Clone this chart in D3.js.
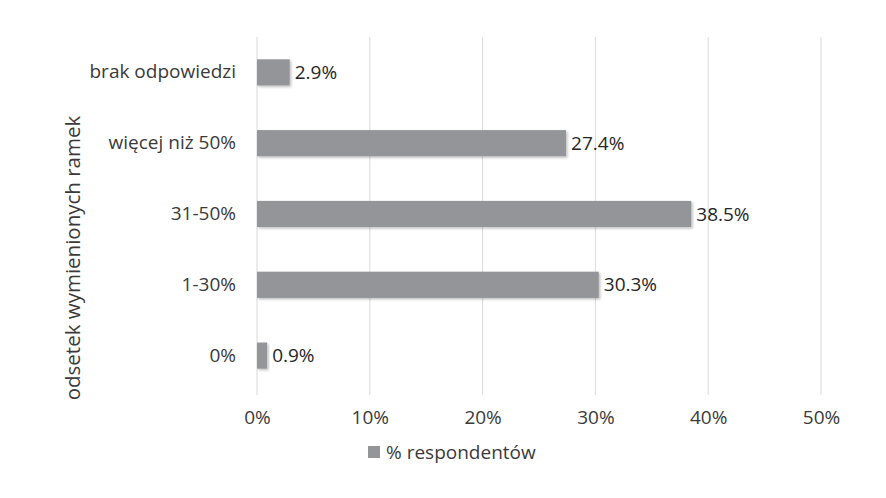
<!DOCTYPE html>
<html>
<head>
<meta charset="utf-8">
<script src="https://cdn.jsdelivr.net/npm/d3@7"></script>
<style>
  body { margin: 0; background: #fff; overflow: hidden; }
  text { font-family: "Open Sans", "Noto Sans", sans-serif; }
</style>
</head>
<body>
<div id="chart"></div>
<script>
// Data
const categories = ['brak odpowiedzi', 'więcej niż 50%', '31-50%', '1-30%', '0%'];
const values = [2.9, 27.4, 38.5, 30.3, 0.9];
const xTicks = [0, 10, 20, 30, 40, 50];
const seriesName = '% respondentów';
const axisTitle = 'odsetek wymienionych ramek';

const width = 886;
const height = 498;
const margin = {top: 37, right: 64, bottom: 107, left: 257};
const innerWidth = width - margin.left - margin.right;
const innerHeight = height - margin.top - margin.bottom;
const fontSize = '19px';
const labelColor = '#3a3a3a';

const svg = d3.select('#chart')
    .append('svg')
    .attr('width', width)
    .attr('height', height)
    .style('display', 'block');

const defs = svg.append('defs');
const shadow = defs.append('filter')
    .attr('id', 'bar-shadow')
    .attr('x', '-10%').attr('y', '-20%')
    .attr('width', '130%').attr('height', '160%');
shadow.append('feDropShadow')
    .attr('dx', 1.5).attr('dy', 1.5)
    .attr('stdDeviation', 1.2)
    .attr('flood-color', '#000')
    .attr('flood-opacity', 0.25);

const g = svg.append('g')
    .attr('transform', `translate(${margin.left}, ${margin.top})`);

// Scales
const x = d3.scaleLinear()
    .domain([0, 50])
    .range([0, innerWidth - 1]);

const y = d3.scaleBand()
    .domain(categories)
    .range([0, innerHeight])
    .paddingInner(0.63)
    .paddingOuter(0.315);

// Vertical grid lines
g.append('g')
    .attr('class', 'grid')
    .selectAll('line')
    .data(xTicks)
    .enter()
    .append('line')
    .attr('x1', d => x(d))
    .attr('x2', d => x(d))
    .attr('y1', 0)
    .attr('y2', innerHeight + 4)
    .attr('stroke', '#d9d9d9')
    .attr('stroke-width', 1);

// X axis tick labels
g.append('g')
    .attr('class', 'axis x-axis')
    .attr('transform', `translate(0, ${innerHeight})`)
    .call(d3.axisBottom(x).tickValues(xTicks).tickSize(0).tickPadding(20).tickFormat(d => d + '%'))
    .call(a => a.select('.domain').remove())
    .selectAll('text')
    .style('font-size', fontSize)
    .attr('fill', labelColor);

// Y axis category labels
g.append('g')
    .attr('class', 'axis y-axis')
    .call(d3.axisLeft(y).tickSize(0).tickPadding(21))
    .call(a => a.select('.domain').remove())
    .selectAll('text')
    .style('font-size', fontSize)
    .attr('fill', labelColor);

// Y axis title
svg.append('text')
    .attr('transform', `translate(80, ${margin.top + innerHeight / 2 + 44}) rotate(-90)`)
    .attr('text-anchor', 'middle')
    .style('font-size', '20.5px')
    .attr('fill', labelColor)
    .text(axisTitle);

// Bars
const rows = categories.map((c, i) => ({category: c, value: values[i]}));

g.selectAll('.bar')
    .data(rows)
    .enter()
    .append('rect')
    .attr('class', 'bar')
    .attr('x', x(0))
    .attr('y', d => y(d.category))
    .attr('width', d => x(d.value) - x(0))
    .attr('height', y.bandwidth())
    .attr('fill', '#939598')
    .attr('filter', 'url(#bar-shadow)');

// Value labels
g.selectAll('.bar-label')
    .data(rows)
    .enter()
    .append('text')
    .attr('class', 'bar-label')
    .attr('x', d => x(d.value) + 5)
    .attr('y', d => y(d.category) + y.bandwidth() / 2)
    .attr('dy', '0.35em')
    .style('font-size', fontSize)
    .attr('fill', '#262626')
    .text(d => d.value.toFixed(1) + '%');

// Legend
const legend = svg.append('g')
    .attr('transform', `translate(368, 446)`);

legend.append('rect')
    .attr('x', 0)
    .attr('y', 0)
    .attr('width', 12)
    .attr('height', 12)
    .attr('fill', '#939598');

legend.append('text')
    .attr('x', 18)
    .attr('y', 6)
    .attr('dy', '0.35em')
    .style('font-size', fontSize)
    .attr('fill', labelColor)
    .text(seriesName);
</script>
</body>
</html>
